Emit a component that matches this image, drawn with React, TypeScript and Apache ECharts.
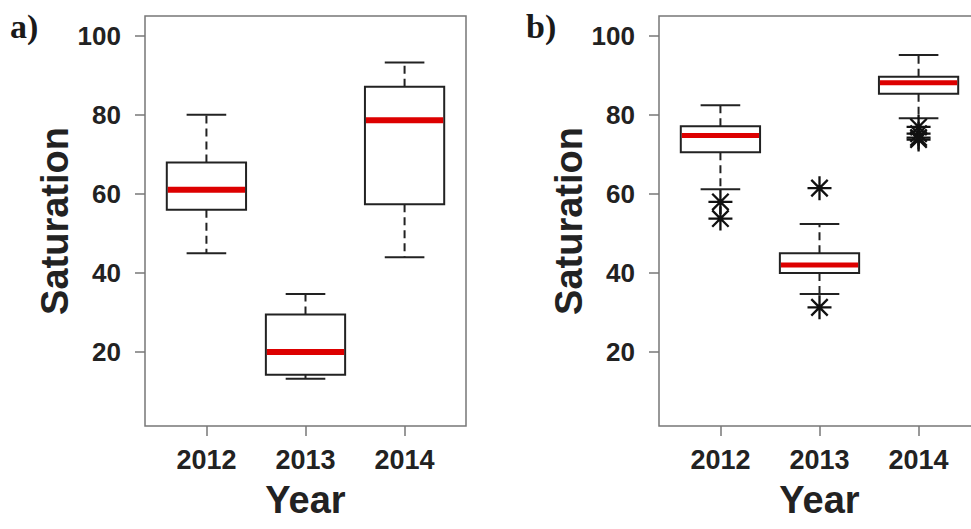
import React, { useEffect, useRef } from 'react';
import * as echarts from 'echarts';

const years = ['2012', '2013', '2014'];
const positions = [1, 2, 3];
const yTicks = [20, 40, 60, 80, 100];

// Panel a) box statistics
const aLow = [45.0, 13.2, 44.0];
const aQ1 = [56.0, 14.2, 57.4];
const aMed = [61.1, 20.0, 78.7];
const aQ3 = [68.0, 29.5, 87.2];
const aHigh = [80.1, 34.7, 93.3];

// Panel b) box statistics
const bLow = [61.2, 34.7, 79.2];
const bQ1 = [70.6, 40.0, 85.4];
const bMed = [74.8, 42.0, 88.2];
const bQ3 = [77.2, 45.0, 89.7];
const bHigh = [82.5, 52.4, 95.2];

// Panel b) outliers
const bOutlierYear = [1, 1, 2, 2, 3, 3, 3, 3];
const bOutlierValue = [58.0, 53.8, 61.5, 31.3, 77.0, 75.3, 74.3, 73.8];

const FONT = 'Liberation Sans, Arial, sans-serif';
const FRAME = '#777777';
const INK = '#222222';
const RED = '#dd0000';

const ASTERISK = 'path://M12,0L12,24M0,12L24,12M3.8,3.8L20.2,20.2M3.8,20.2L20.2,3.8';

function boxRows(lo: number[], q1: number[], md: number[], q3: number[], hi: number[]) {
  return positions.map((p, i) => [p, lo[i], q1[i], md[i], q3[i], hi[i]]);
}

function makeRender(medWidth: number) {
  return (params: any, api: any) => {
    const x = api.value(0);
    const pLo = api.coord([x, api.value(1)]);
    const pQ1 = api.coord([x, api.value(2)]);
    const pMd = api.coord([x, api.value(3)]);
    const pQ3 = api.coord([x, api.value(4)]);
    const pHi = api.coord([x, api.value(5)]);
    const bw = api.size([0.8, 0])[0];
    const cw = api.size([0.4, 0])[0];
    const cx = pLo[0];
    const lineStyle = { stroke: INK, lineWidth: 2, fill: null };
    const dashStyle = { stroke: INK, lineWidth: 2, lineDash: [8, 5], fill: null };
    return {
      type: 'group',
      children: [
        { type: 'line', shape: { x1: cx, y1: pQ3[1], x2: cx, y2: pHi[1] }, style: dashStyle },
        { type: 'line', shape: { x1: cx, y1: pQ1[1], x2: cx, y2: pLo[1] }, style: dashStyle },
        { type: 'line', shape: { x1: cx - cw / 2, y1: pHi[1], x2: cx + cw / 2, y2: pHi[1] }, style: lineStyle },
        { type: 'line', shape: { x1: cx - cw / 2, y1: pLo[1], x2: cx + cw / 2, y2: pLo[1] }, style: lineStyle },
        {
          type: 'rect',
          shape: { x: cx - bw / 2, y: pQ3[1], width: bw, height: pQ1[1] - pQ3[1] },
          style: { fill: '#ffffff', stroke: INK, lineWidth: 2 },
        },
        {
          type: 'line',
          shape: { x1: cx - bw / 2 + 1, y1: pMd[1], x2: cx + bw / 2 - 1, y2: pMd[1] },
          style: { stroke: RED, lineWidth: medWidth },
        },
      ],
    };
  };
}

function xAxisFor(gridIndex: number) {
  return {
    type: 'value',
    gridIndex,
    min: 0.38,
    max: 3.62,
    splitLine: { show: false },
    axisLine: { show: false },
    axisTick: { show: true, length: 10, customValues: positions, lineStyle: { color: FRAME, width: 1.5 } },
    axisLabel: {
      customValues: positions,
      formatter: (v: number) => years[Math.round(v) - 1],
      fontFamily: FONT,
      fontWeight: 'bold',
      fontSize: 27,
      color: INK,
      margin: 20,
    },
    name: 'Year',
    nameLocation: 'middle',
    nameGap: 55,
    nameTextStyle: { fontFamily: FONT, fontWeight: 'bold', fontSize: 38, color: INK },
  };
}

function yAxisFor(gridIndex: number) {
  return {
    type: 'value',
    gridIndex,
    min: 1.25,
    max: 105.1,
    splitLine: { show: false },
    axisLine: { show: false },
    axisTick: { show: true, length: 10, customValues: yTicks, lineStyle: { color: FRAME, width: 1.5 } },
    axisLabel: {
      customValues: yTicks,
      fontFamily: FONT,
      fontWeight: 'bold',
      fontSize: 26,
      color: INK,
      margin: 24,
    },
    name: 'Saturation',
    nameLocation: 'middle',
    nameGap: 70,
    nameTextStyle: { fontFamily: FONT, fontWeight: 'bold', fontSize: 38, color: INK },
  };
}

export default function App() {
  const ref = useRef<HTMLDivElement>(null);
  useEffect(() => {
    if (!ref.current) return;
    const chart = echarts.init(ref.current, null, { renderer: 'svg' });
    chart.setOption({
      animation: false,
      backgroundColor: '#ffffff',
      grid: [
        { left: 145, top: 16, width: 321, height: 410, show: true, borderColor: FRAME, borderWidth: 1.5, backgroundColor: 'transparent' },
        { left: 659, top: 16, width: 321, height: 410, show: true, borderColor: FRAME, borderWidth: 1.5, backgroundColor: 'transparent' },
      ],
      xAxis: [xAxisFor(0), xAxisFor(1)],
      yAxis: [yAxisFor(0), yAxisFor(1)],
      graphic: [
        {
          type: 'text',
          left: 10,
          top: 9,
          style: { text: 'a)', font: 'bold 34px "Liberation Serif", "Times New Roman", serif', fill: '#1a1a1a' },
        },
        {
          type: 'text',
          left: 526,
          top: 9,
          style: { text: 'b)', font: 'bold 34px "Liberation Serif", "Times New Roman", serif', fill: '#1a1a1a' },
        },
      ],
      series: [
        {
          type: 'custom',
          xAxisIndex: 0,
          yAxisIndex: 0,
          renderItem: makeRender(6),
          data: boxRows(aLow, aQ1, aMed, aQ3, aHigh),
          encode: { x: 0, y: [1, 2, 3, 4, 5] },
        },
        {
          type: 'custom',
          xAxisIndex: 1,
          yAxisIndex: 1,
          renderItem: makeRender(5),
          data: boxRows(bLow, bQ1, bMed, bQ3, bHigh),
          encode: { x: 0, y: [1, 2, 3, 4, 5] },
        },
        {
          type: 'scatter',
          xAxisIndex: 1,
          yAxisIndex: 1,
          symbol: ASTERISK,
          symbolSize: 24,
          itemStyle: { color: 'none', borderColor: '#111111', borderWidth: 2.3, opacity: 1 },
          data: bOutlierYear.map((p, i) => [p, bOutlierValue[i]]),
          z: 5,
        },
      ],
    });
    return () => chart.dispose();
  }, []);
  return (
    <div style={{ position: 'fixed', left: 0, top: 0, width: 971, height: 529, overflow: 'hidden', background: '#ffffff' }}>
      <div ref={ref} style={{ width: 1100, height: 529 }} />
    </div>
  );
}
